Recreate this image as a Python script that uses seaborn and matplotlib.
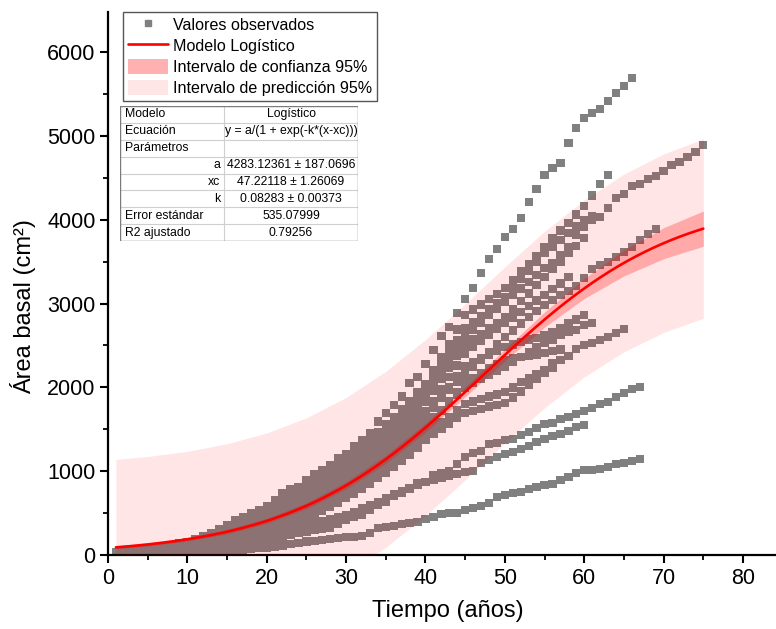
import numpy as np
import pandas as pd
import matplotlib
matplotlib.use("Agg")
import matplotlib.pyplot as plt
import seaborn as sns
from matplotlib.patches import Patch, Rectangle
from matplotlib.lines import Line2D
from matplotlib.ticker import MultipleLocator

# ---------------- observed data (one list per tree, yearly from year 1) -------------
tree_01 = [36, 45, 55, 68, 83, 95, 108, 122, 138, 155,
           185, 219, 262, 310, 360, 410, 457, 500, 540, 577,
           650, 737, 780, 815, 895, 966, 1014, 1074, 1157, 1205,
           1293, 1372, 1456, 1591, 1694, 1790, 1889, 2052, 2124, 2279,
           2446, 2613, 2721, 2888, 3055, 3186, 3365, 3532, 3651, 3795,
           3890, 4021, 4212, 4367, 4535, 4618, 4678, 4917, 5095, 5215,
           5274, 5322, 5418, 5513, 5597, 5692]
tree_02 = [30, 38, 47, 58, 70, 82, 95, 110, 126, 144,
           170, 200, 236, 275, 318, 362, 405, 448, 490, 530,
           580, 640, 700, 760, 820, 880, 940, 1010, 1075, 1140,
           1220, 1300, 1385, 1470, 1560, 1650, 1740, 1840, 1940, 2040,
           2200, 2360, 2520, 2690, 2864, 2930, 2990, 3050, 3110, 3186,
           3280, 3380, 3470, 3570, 3675, 3780, 3870, 3960, 4060, 4160,
           4290, 4427, 4535]
tree_03 = [28, 35, 44, 54, 65, 76, 88, 101, 116, 132,
           155, 182, 213, 248, 286, 326, 368, 410, 452, 495,
           545, 600, 660, 720, 780, 840, 900, 965, 1030, 1100,
           1170, 1245, 1320, 1400, 1480, 1570, 1660, 1760, 1870, 1980,
           2130, 2280, 2420, 2560, 2700, 2780, 2850, 2930, 3000, 3079,
           3180, 3290, 3390, 3500, 3600, 3680, 3760, 3840, 3920, 3998,
           4040]
tree_04 = [25, 32, 40, 49, 59, 70, 81, 93, 107, 122,
           143, 168, 197, 230, 266, 304, 344, 385, 426, 468,
           515, 568, 625, 683, 740, 800, 860, 925, 988, 1050,
           1120, 1190, 1265, 1340, 1420, 1505, 1595, 1690, 1795, 1900,
           2040, 2180, 2320, 2460, 2600, 2690, 2770, 2860, 2940, 3019,
           3100, 3180, 3260, 3340, 3425, 3484, 3580, 3675, 3818, 3914,
           3998, 4033, 4141, 4260, 4308, 4403, 4427, 4487, 4523, 4582,
           4654, 4690, 4750, 4809, 4893]
tree_05 = [22, 28, 35, 43, 52, 62, 72, 84, 97, 111,
           130, 153, 180, 210, 243, 279, 316, 355, 395, 435,
           480, 530, 585, 640, 695, 752, 810, 870, 935, 1000,
           1070, 1140, 1215, 1290, 1370, 1455, 1540, 1630, 1730, 1830,
           1960, 2100, 2230, 2370, 2500, 2570, 2640, 2705, 2770, 2840,
           2930, 3030, 3120, 3220, 3317, 3410, 3500, 3600, 3690, 3783]
tree_06 = [20, 26, 33, 40, 48, 57, 67, 78, 90, 103,
           121, 142, 167, 195, 226, 260, 296, 334, 373, 412,
           456, 505, 556, 610, 663, 718, 775, 835, 902, 970,
           1035, 1100, 1165, 1235, 1310, 1385, 1465, 1545, 1630, 1720,
           1800, 1890, 1975, 2060, 2150, 2240, 2330, 2420, 2510, 2600,
           2680, 2760, 2840, 2910, 2985, 3040, 3103, 3150, 3210, 3305,
           3413, 3461, 3496, 3556, 3616, 3675, 3759, 3830, 3890]
tree_07 = [18, 24, 30, 37, 45, 54, 63, 73, 84, 96,
           113, 133, 156, 182, 211, 243, 277, 313, 350, 388,
           430, 476, 525, 577, 628, 682, 738, 800, 865, 930,
           995, 1060, 1130, 1205, 1280, 1360, 1440, 1520, 1610, 1700,
           1840, 1980, 2120, 2260, 2400, 2480, 2550, 2625, 2700, 2768,
           2830, 2900, 2970, 3035, 3100, 3170, 3240, 3317]
tree_08 = [16, 21, 27, 33, 40, 48, 56, 65, 75, 86,
           101, 119, 140, 164, 190, 219, 250, 283, 318, 354,
           395, 440, 488, 538, 588, 640, 694, 752, 815, 880,
           945, 1010, 1075, 1145, 1215, 1290, 1370, 1450, 1535, 1620,
           1750, 1880, 2000, 2130, 2250, 2300, 2350, 2390, 2440, 2482,
           2510, 2540, 2570, 2590, 2620, 2660, 2710, 2760, 2810, 2864]
tree_09 = [14, 19, 24, 30, 36, 43, 51, 59, 68, 78,
           92, 108, 127, 149, 173, 200, 229, 260, 293, 327,
           366, 408, 453, 500, 548, 598, 650, 706, 766, 830,
           895, 960, 1025, 1090, 1160, 1230, 1305, 1380, 1465, 1550,
           1640, 1730, 1820, 1910, 2000, 2050, 2100, 2150, 2195, 2243,
           2300, 2360, 2420, 2475, 2530, 2566, 2625, 2661, 2685, 2745,
           2768]
tree_10 = [12, 16, 21, 26, 32, 38, 45, 52, 60, 69,
           81, 96, 113, 133, 155, 179, 205, 233, 263, 294,
           330, 370, 413, 458, 504, 552, 602, 656, 716, 780,
           843, 905, 968, 1032, 1100, 1170, 1240, 1315, 1395, 1480,
           1600, 1720, 1830, 1940, 2050, 2110, 2170, 2230, 2280, 2327,
           2345, 2360, 2375, 2390, 2410, 2430, 2450]
tree_11 = [10, 14, 18, 23, 28, 34, 40, 47, 54, 62,
           73, 86, 101, 119, 139, 161, 185, 211, 239, 268,
           302, 340, 380, 423, 467, 513, 561, 614, 670, 730,
           790, 852, 915, 980, 1045, 1115, 1190, 1265, 1345, 1430,
           1500, 1580, 1650, 1725, 1800, 1830, 1860, 1890, 1915, 1945,
           2000, 2060, 2110, 2160, 2208, 2291, 2327, 2375, 2458, 2506,
           2530, 2566, 2601, 2649, 2697]
tree_12 = [8, 11, 15, 19, 24, 29, 35, 41, 48, 55,
           65, 77, 91, 107, 125, 145, 167, 191, 217, 245,
           277, 312, 350, 392, 435, 480, 526, 575, 626, 680,
           735, 792, 852, 915, 979, 1050, 1120, 1190, 1280, 1372,
           1440, 1510, 1570, 1635, 1694, 1720, 1745, 1770, 1790, 1814,
           1880, 1950, 2030, 2100, 2172, 2230]
tree_13 = [9, 12, 16, 20, 25, 30, 36, 43, 50, 58,
           68, 80, 94, 110, 128, 148, 170, 194, 220, 248,
           270, 295, 318, 338, 360, 385, 408, 430, 455, 480,
           515, 555, 595, 635, 680, 720, 760, 800, 835, 870,
           895, 920, 945, 965, 990, 1002, 1098, 1134, 1169, 1205,
           1229, 1265, 1301, 1348, 1384, 1420, 1444, 1480, 1527, 1551]
tree_14 = [7, 9, 12, 15, 19, 23, 28, 33, 39, 45,
           53, 62, 72, 84, 97, 111, 126, 143, 161, 180,
           200, 220, 241, 262, 280, 295, 310, 330, 370, 418,
           453, 477, 537, 597, 632, 704, 740, 788, 859, 871,
           955, 979, 1002, 1086, 1169, 1217, 1241, 1325, 1337, 1372,
           1384, 1432, 1468, 1516, 1563, 1575, 1623, 1647, 1683, 1718,
           1754, 1802, 1826, 1885, 1933, 1981, 2005]
tree_15 = [6, 8, 9, 11, 13, 15, 17, 20, 23, 26,
           30, 34, 39, 44, 50, 57, 64, 72, 80, 90,
           100, 115, 130, 143, 160, 170, 180, 191, 203, 215,
           215, 227, 263, 322, 334, 346, 370, 382, 394, 430,
           453, 489, 501, 501, 537, 561, 585, 621, 692, 716,
           740, 752, 788, 811, 835, 847, 895, 931, 978, 1014,
           1014, 1026, 1050, 1086, 1098, 1122, 1146]

# ---------------- fitted model (values from the table) ----------------
fit_a = 4283.12361
fit_xc = 47.22118
fit_k = 0.08283
fit_se = 535.07999
fit_x_range = [1, 75]

# confidence half-width read at these times
band_x = [1, 5, 10, 15, 20, 25, 30, 35, 40, 45, 50, 55, 60, 65, 70, 75]
conf_half = [18, 20, 22, 26, 30, 36, 42, 48, 52, 58, 70, 90, 120, 155, 185, 210]

table_rows = [("Modelo", "Logístico", "left"),
              ("Ecuación", "y = a/(1 + exp(-k*(x-xc)))", "left"),
              ("Parámetros", "", "left"),
              ("a", "4283.12361 ± 187.0696", "right"),
              ("xc", "47.22118 ± 1.26069", "right"),
              ("k", "0.08283 ± 0.00373", "right"),
              ("Error estándar", "535.07999", "left"),
              ("R2 ajustado", "0.79256", "left")]

legend_labels = ["Valores observados", "Modelo Logístico",
                 "Intervalo de confianza 95%", "Intervalo de predicción 95%"]

# ---------------- build frame ----------------
trees = {f"arbol_{i+1:02d}": t for i, t in enumerate(
    [tree_01, tree_02, tree_03, tree_04, tree_05, tree_06, tree_07, tree_08,
     tree_09, tree_10, tree_11, tree_12, tree_13, tree_14, tree_15])}
obs = pd.concat([pd.DataFrame({"tiempo": np.arange(1, len(v) + 1), "area": v, "arbol": k})
                 for k, v in trees.items()], ignore_index=True)


def logistic(x):
    return fit_a / (1.0 + np.exp(-fit_k * (np.asarray(x, float) - fit_xc)))


sns.set_theme(style="ticks")
plt.rcParams['font.family'] = ['Liberation Sans', 'DejaVu Sans']
plt.rcParams['text.color'] = 'black'
plt.rcParams['axes.labelcolor'] = 'black'

W, H = 776, 629
fig = plt.figure(figsize=(W / 100, H / 100), dpi=100)
ax_l, ax_r, ax_t, ax_b = 108, 776, 12, 555
ax = fig.add_axes([ax_l / W, (H - ax_b) / H, (ax_r - ax_l) / W, (ax_b - ax_t) / H])

sns.scatterplot(data=obs, x="tiempo", y="area", marker="s", s=36, color="#808080",
                edgecolor="none", linewidth=0, ax=ax, zorder=2, legend=False)

bx = np.array(band_x, float)
by = logistic(bx)
ch = np.array(conf_half, float)
ph = np.sqrt((1.96 * fit_se) ** 2 + ch ** 2)
ax.fill_between(bx, by - ph, by + ph, color="#ff0000", alpha=0.10, lw=0, zorder=3)
ax.fill_between(bx, by - ch, by + ch, color="#ff0000", alpha=0.26, lw=0, zorder=4)

xf = np.linspace(fit_x_range[0], fit_x_range[1], 400)
sns.lineplot(x=xf, y=logistic(xf), color="#ff0000", linewidth=1.9, ax=ax, zorder=5)

ax.set_xlim(0, (ax_r - ax_l) / 7.9375)
ax.set_ylim(0, (ax_b - ax_t) / 0.08383)
ax.xaxis.set_major_locator(MultipleLocator(10))
ax.xaxis.set_minor_locator(MultipleLocator(5))
ax.yaxis.set_major_locator(MultipleLocator(1000))
ax.yaxis.set_minor_locator(MultipleLocator(500))
for side in ["top", "right"]:
    ax.spines[side].set_visible(False)
for side in ["left", "bottom"]:
    ax.spines[side].set_linewidth(1.6)
    ax.spines[side].set_color("black")
ax.tick_params(which="major", direction="out", length=6, width=1.5, labelsize=15.5,
               color="black", labelcolor="black", pad=3)
ax.tick_params(which="minor", direction="out", length=3.5, width=1.3, color="black")
ax.set_facecolor("white")
ax.grid(False)

ax.set_xlabel("Tiempo (años)", fontsize=17, color="black")
ax.set_ylabel("Área basal (cm²)", fontsize=17, color="black")
ax.xaxis.set_label_coords(0.509, -0.083)
ax.yaxis.set_label_coords(-0.108, 0.457)

handles = [Line2D([], [], marker="s", color="#808080", linestyle="none", markersize=5),
           Line2D([], [], color="#ff0000", linewidth=1.9),
           Patch(facecolor="#ffb0b0", edgecolor="none"),
           Patch(facecolor="#ffe6e6", edgecolor="none")]
leg = ax.legend(handles, legend_labels, loc="upper left",
                bbox_to_anchor=((123 - ax_l) / (ax_r - ax_l), 1.0), fontsize=11.6,
                frameon=True, fancybox=False, framealpha=1, edgecolor="#555555",
                handlelength=2.5, handleheight=1.05, handletextpad=0.3,
                labelspacing=0.32, borderpad=0.3, borderaxespad=0)
leg.get_frame().set_linewidth(1.0)
leg.set_zorder(10)

# ---------------- parameter table ----------------
t_l, t_r, t_t, t_b = 120, 358, 106, 241
tax = fig.add_axes([t_l / W, (H - t_b) / H, (t_r - t_l) / W, (t_b - t_t) / H])
tw, th = t_r - t_l, t_b - t_t
tax.set_xlim(0, tw)
tax.set_ylim(th, 0)
tax.axis("off")
tax.add_patch(Rectangle((0, 0), tw, th, facecolor="white", edgecolor="none", zorder=0))
n = len(table_rows)
rh = th / n
cdiv = 104
for i in range(1, n):
    tax.plot([0, tw], [i * rh, i * rh], color="#cfcfcf", lw=0.8, zorder=1)
tax.plot([cdiv, cdiv], [0, th], color="#cfcfcf", lw=0.8, zorder=1)
tax.add_patch(Rectangle((0, 0), tw, th, facecolor="none", edgecolor="#7a7a7a", lw=1.0, zorder=2))
for i, (left, right, align) in enumerate(table_rows):
    yc = (i + 0.5) * rh
    if align == "left":
        tax.text(5, yc, left, ha="left", va="center", fontsize=8.8, color="black")
    else:
        tax.text(cdiv - 4, yc, left, ha="right", va="center", fontsize=8.8, color="black")
    tax.text((cdiv + tw) / 2, yc, right, ha="center", va="center", fontsize=8.8, color="black")

fig.savefig("out.png", dpi=100, facecolor="white")
